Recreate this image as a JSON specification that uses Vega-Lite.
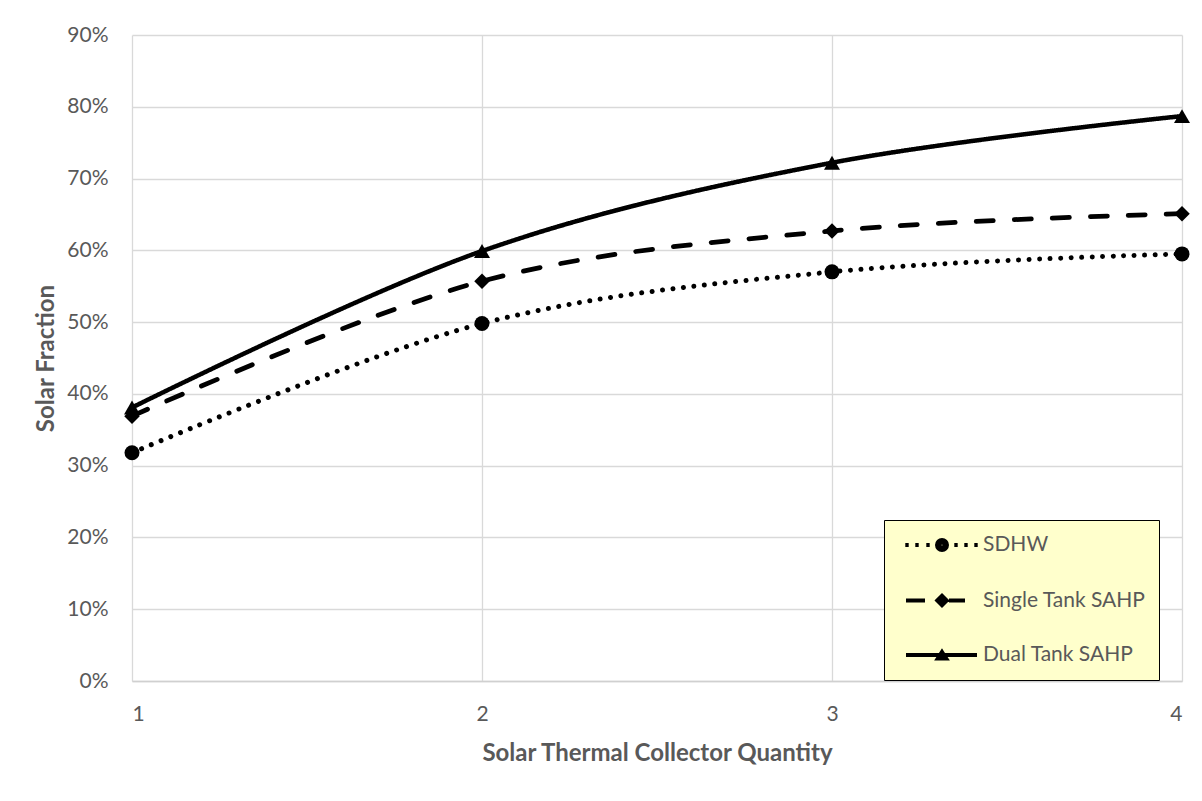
{
  "$schema": "https://vega.github.io/schema/vega-lite/v6.json",
  "width": 1050,
  "height": 646,
  "autosize": {"type": "none"},
  "padding": {"left": 132, "top": 35, "right": 20, "bottom": 120},
  "background": "white",
  "config": {
    "font": "Lato",
    "view": {"stroke": null},
    "axis": {
      "labelFont": "Lato",
      "labelFontSize": 21,
      "labelColor": "#595959",
      "titleFont": "Lato",
      "titleFontSize": 24,
      "titleFontWeight": "bold",
      "titleColor": "#595959",
      "gridColor": "#d9d9d9",
      "gridWidth": 1.3,
      "ticks": false
    }
  },
  "data": {
    "values": [
      {"n": 1, "series": "SDHW", "v": 0.318},
      {"n": 2, "series": "SDHW", "v": 0.498},
      {"n": 3, "series": "SDHW", "v": 0.570},
      {"n": 4, "series": "SDHW", "v": 0.595},
      {"n": 1, "series": "Single Tank SAHP", "v": 0.369},
      {"n": 2, "series": "Single Tank SAHP", "v": 0.557},
      {"n": 3, "series": "Single Tank SAHP", "v": 0.627},
      {"n": 4, "series": "Single Tank SAHP", "v": 0.651},
      {"n": 1, "series": "Dual Tank SAHP", "v": 0.381},
      {"n": 2, "series": "Dual Tank SAHP", "v": 0.599},
      {"n": 3, "series": "Dual Tank SAHP", "v": 0.722},
      {"n": 4, "series": "Dual Tank SAHP", "v": 0.787}
    ]
  },
  "encoding": {
    "x": {
      "field": "n",
      "type": "quantitative",
      "scale": {"domain": [1, 4], "nice": false, "zero": false},
      "axis": {
        "title": "Solar Thermal Collector Quantity",
        "values": [1, 2, 3, 4],
        "format": "d",
        "labelPadding": 22,
        "domainColor": "#d0d0d0",
        "domainWidth": 1.3,
        "titleBaseline": "alphabetic",
        "titleY": 79
      }
    },
    "y": {
      "field": "v",
      "type": "quantitative",
      "scale": {"domain": [0, 0.9], "nice": false},
      "axis": {
        "title": "Solar Fraction",
        "values": [0, 0.1, 0.2, 0.3, 0.4, 0.5, 0.6, 0.7, 0.8, 0.9],
        "format": ".0%",
        "labelPadding": 24,
        "domain": false,
        "titleBaseline": "alphabetic",
        "titleX": -79,
        "titleY": 323
      }
    }
  },
  "layer": [
    {
      "mark": {"type": "line", "color": "black", "strokeCap": "round", "interpolate": "cardinal", "tension": 0},
      "encoding": {
        "detail": {"field": "series"},
        "strokeDash": {
          "field": "series",
          "type": "nominal",
          "scale": {"domain": ["SDHW", "Single Tank SAHP", "Dual Tank SAHP"], "range": [[0.01, 10.5], [17, 21], [1, 0]]},
          "legend": null
        },
        "strokeWidth": {
          "field": "series",
          "type": "nominal",
          "scale": {"domain": ["SDHW", "Single Tank SAHP", "Dual Tank SAHP"], "range": [5, 4.5, 4.5]},
          "legend": null
        }
      }
    },
    {
      "mark": {"type": "point", "filled": true, "color": "black", "opacity": 1},
      "encoding": {
        "shape": {
          "field": "series",
          "type": "nominal",
          "scale": {"domain": ["SDHW", "Single Tank SAHP", "Dual Tank SAHP"], "range": ["circle", "diamond", "triangle-up"]},
          "legend": null
        },
        "size": {
          "field": "series",
          "type": "nominal",
          "scale": {"domain": ["SDHW", "Single Tank SAHP", "Dual Tank SAHP"], "range": [225, 256, 256]},
          "legend": null
        }
      }
    },
    {
      "transform": [{"filter": "false"}],
      "mark": {"type": "point", "filled": false, "color": "black", "strokeWidth": 4, "opacity": 1},
      "encoding": {
        "shape": {
          "field": "series",
          "type": "nominal",
          "scale": {
            "domain": ["SDHW", "Single Tank SAHP", "Dual Tank SAHP"],
            "range": [
              "M-0.37,0L-0.03,0M0.63,0L0.97,0M1.73,0L2.07,0M3.8,0C3.8,0.276 3.576,0.5 3.3,0.5C3.024,0.5 2.8,0.276 2.8,0C2.8,-0.276 3.024,-0.5 3.3,-0.5C3.576,-0.5 3.8,-0.276 3.8,0ZM3.45,0C3.45,0.083 3.383,0.15 3.3,0.15C3.217,0.15 3.15,0.083 3.15,0C3.15,-0.083 3.217,-0.15 3.3,-0.15C3.383,-0.15 3.45,-0.083 3.45,0ZM4.53,0L4.87,0M5.53,0L5.87,0M6.53,0L6.87,0",
              "M-0.3,0L1.6,0M2.83,0L3.3,-0.47L3.77,0L3.3,0.47ZM3.15,0L3.3,-0.15L3.45,0L3.3,0.15ZM4.0,0L5.6,0",
              "M-0.3,0L6.8,0M3.3,-0.3L3.72,0.35L2.88,0.35ZM3.2,0.12L3.4,0.12"
            ]
          },
          "legend": {
            "title": null,
            "orient": "none",
            "legendX": 752,
            "legendY": 485,
            "fillColor": "#FFFFCC",
            "strokeColor": "#000000",
            "padding": 13,
            "symbolSize": 400,
            "symbolStrokeWidth": 4,
            "symbolStrokeColor": "black",
            "symbolOpacity": 1,
            "labelFont": "Lato",
            "labelFontSize": 21,
            "labelColor": "#595959",
            "labelOffset": 62,
            "labelLimit": 400,
            "rowPadding": 29.5
          }
        }
      }
    }
  ],
  "resolve": {"scale": {"shape": "independent"}, "legend": {"shape": "independent"}}
}
